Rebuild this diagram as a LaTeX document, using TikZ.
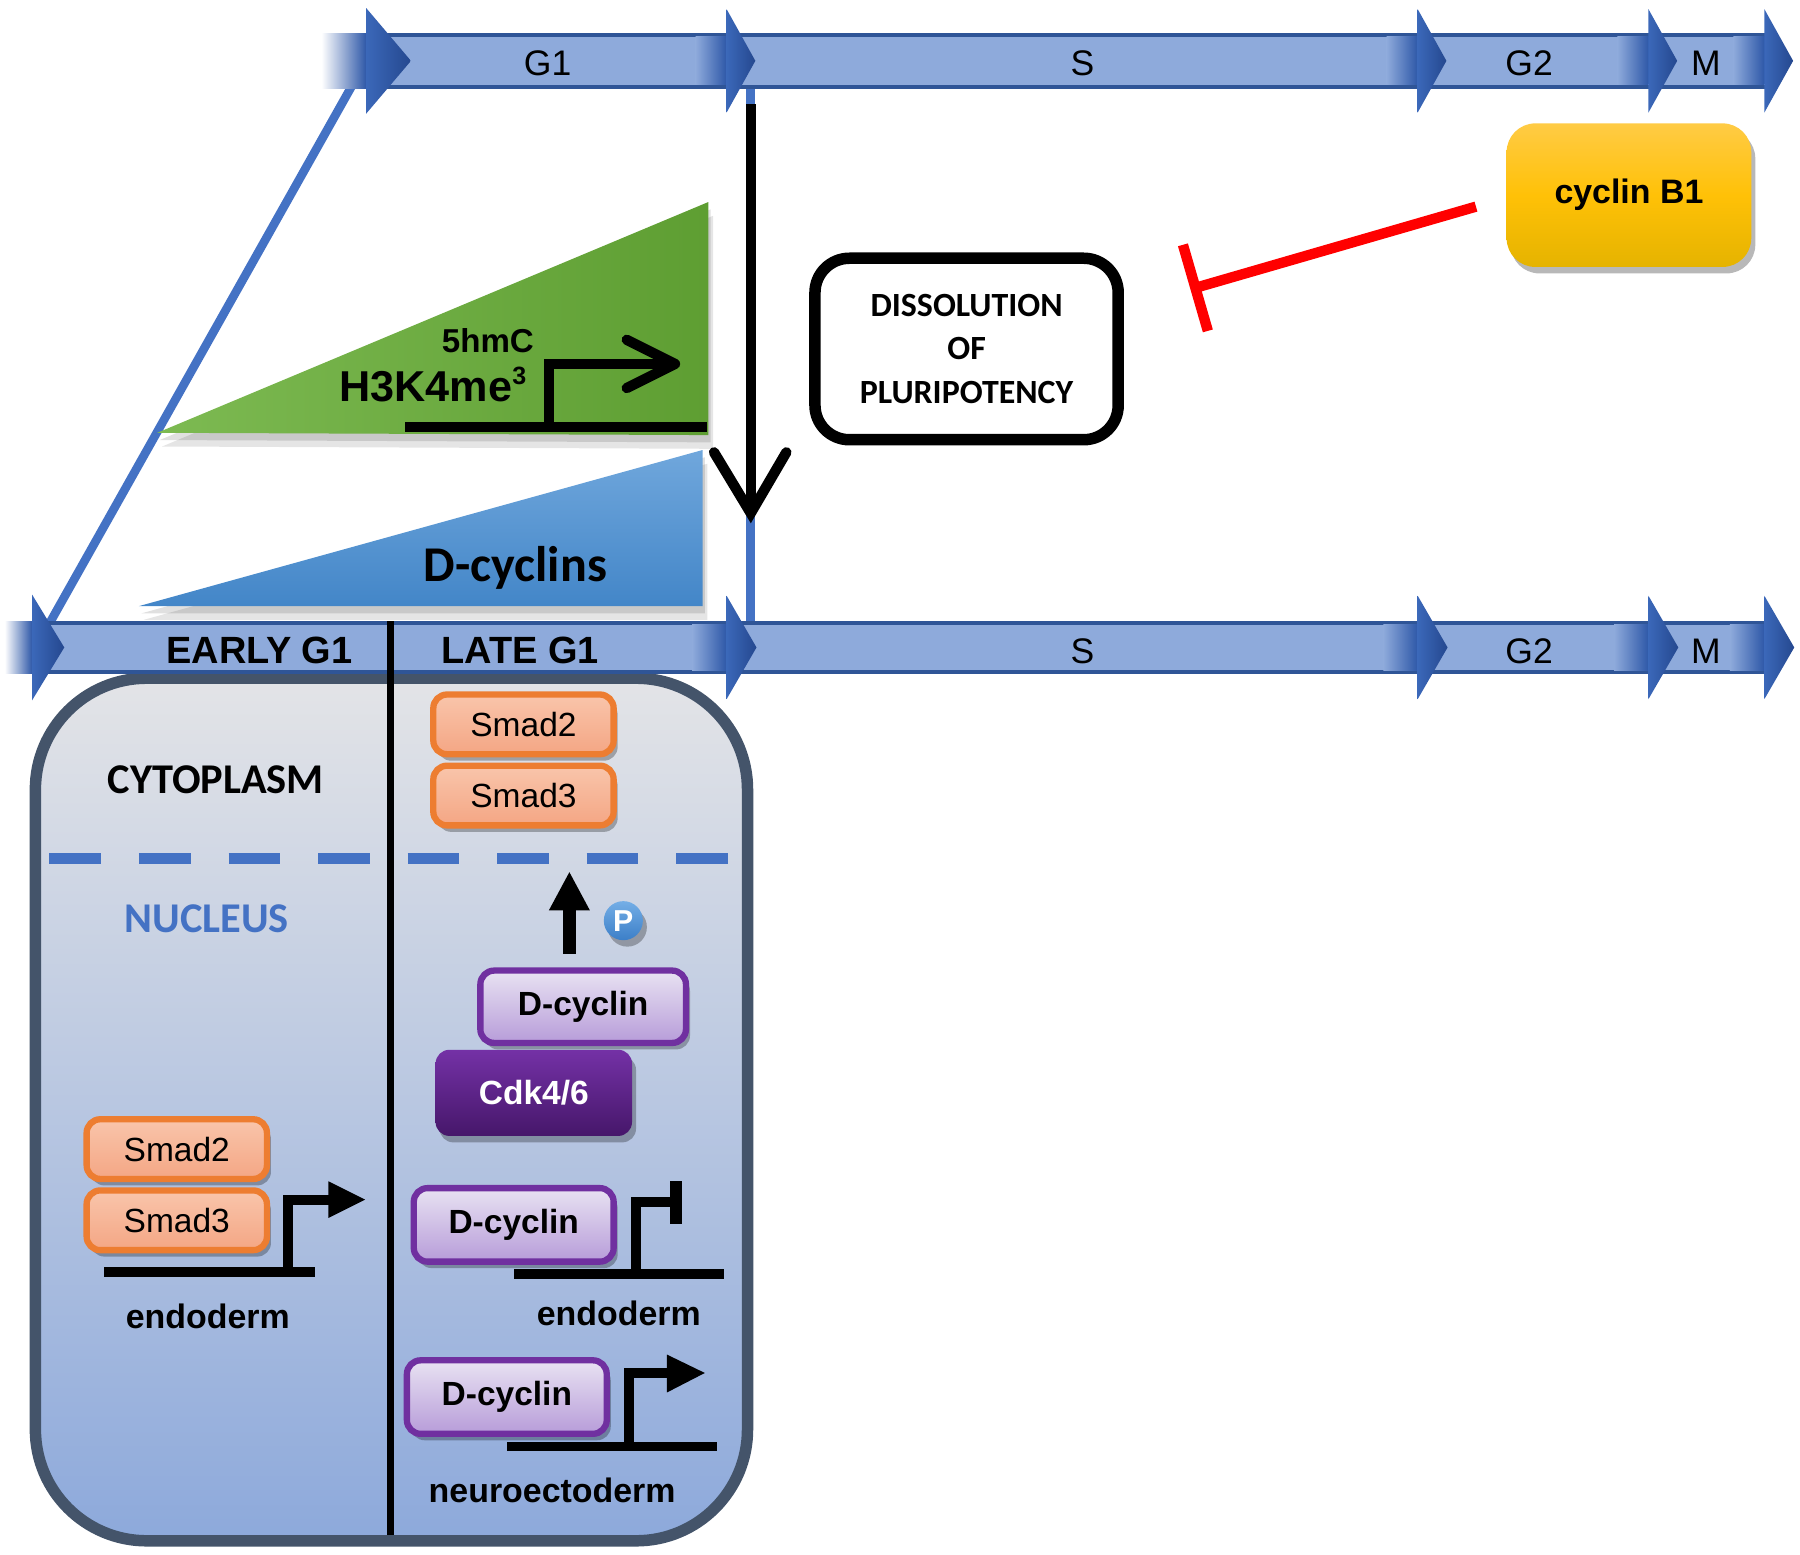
\documentclass[tikz,border=0pt]{standalone}
\usepackage{fontspec}
\setmainfont{Liberation Sans}
\newfontfamily\calib{Carlito}
\usetikzlibrary{arrows.meta,shadows}
\definecolor{barfill}{HTML}{8EAADB}
\definecolor{baredge}{HTML}{2F5597}
\definecolor{headL}{HTML}{3B68B9}
\definecolor{headR}{HTML}{25488F}
\definecolor{headdark}{HTML}{2E58A8}
\definecolor{lineblue}{HTML}{4472C4}
\definecolor{greenL}{HTML}{7DBA52}
\definecolor{greenR}{HTML}{5E9E32}
\definecolor{dblueT}{HTML}{70A7DC}
\definecolor{dblueB}{HTML}{4386C8}
\definecolor{cellT}{HTML}{E3E4E7}
\definecolor{cellB}{HTML}{8DA9DB}
\definecolor{cellEdge}{HTML}{44546A}
\definecolor{smadEdge}{HTML}{ED7D31}
\definecolor{smadT}{HTML}{F9C5AB}
\definecolor{smadB}{HTML}{F4A684}
\definecolor{purpEdge}{HTML}{7030A0}
\definecolor{dcycT}{HTML}{E8E2F2}
\definecolor{dcycB}{HTML}{B79CD9}
\definecolor{cdkT}{HTML}{7431A6}
\definecolor{cdkB}{HTML}{46176A}
\definecolor{goldT}{HTML}{FFCB45}
\definecolor{goldM}{HTML}{FFC107}
\definecolor{goldB}{HTML}{E5B300}
\definecolor{inhred}{HTML}{FF0000}
\definecolor{pT}{HTML}{74AEE6}
\definecolor{pB}{HTML}{3C7FC8}
\tikzset{
  shadowed/.style={drop shadow={shadow xshift=1pt, shadow yshift=-1.6pt, opacity=0.28, fill=black}},
  tshadow/.style={
    preaction={fill=black, opacity=0.10, transform canvas={shift={(1.2pt,-3.4pt)}}},
    preaction={fill=black, opacity=0.12, transform canvas={shift={(0.6pt,-1.8pt)}}}},
  tl/.style={inner sep=0pt, font=\fontsize{8.8}{10}\selectfont},
  phase/.style={inner sep=0pt, font=\bfseries\fontsize{9.4}{11}\selectfont},
  smadbox/.style={draw=smadEdge, line width=0.055cm, rounded corners=0.12cm, top color=smadT, bottom color=smadB,
    minimum width=1.57cm, minimum height=0.52cm, inner sep=0pt, font=\fontsize{8.3}{10}\selectfont, shadowed},
  dcycbox/.style={draw=purpEdge, line width=0.055cm, rounded corners=0.12cm, top color=dcycT, bottom color=dcycB,
    minimum width=1.74cm, minimum height=0.64cm, inner sep=0pt, font=\bfseries\fontsize{8.3}{10}\selectfont, shadowed},
  genelbl/.style={inner sep=0pt, font=\bfseries\fontsize{8.4}{10}\selectfont},
  dna/.style={line width=0.085cm},
  tss/.style={line width=0.085cm, line join=miter},
}
\begin{document}
\begin{tikzpicture}[x=0.01cm, y=-0.01cm]
\useasboundingbox (0,0) rectangle (1568,1354);

% ---------- connectors between timelines ----------
\coordinate (diagB) at (42,545);
\coordinate (diagT) at (316,58);
\draw[lineblue, line width=0.075cm] (diagB) -- (diagT);
\coordinate (vblT) at (654,77);
\coordinate (vblB) at (654,541);
\draw[lineblue, line width=0.075cm] (vblT) -- (vblB);

% ---------- triangles ----------
\shade[tshadow, left color=greenL, right color=greenR] (137,377) -- (617,176) -- (617,379) -- cycle;
\shade[tshadow, top color=dblueT, bottom color=dblueB] (121,528) -- (612,392) -- (612,528) -- cycle;

% promoter in green triangle
\draw[dna] (353,372) -- (616,372);
\draw[tss] (478,372) -- (478,317) -- (584,317);
\draw[line width=0.09cm, line cap=round, line join=round] (546,296) -- (588,317) -- (546,338);
\node[inner sep=0pt, font=\bfseries\fontsize{8.2}{10}\selectfont] (hmc) at (425,297) {5hmC};
\node[inner sep=0pt, font=\bfseries\fontsize{10.7}{12}\selectfont] (h3k) at (377,335)
  {H3K4me\raisebox{0.38em}{\fontsize{6.2}{7}\selectfont 3}};
\node[inner sep=0pt, font=\calib\bfseries\fontsize{12.4}{14}\selectfont] (dcycs) at (449,495) {D-cyclins};

% black arrow down
\coordinate (vtop) at (654,91);
\coordinate (vtip) at (654,447);
\draw[line width=0.09cm] (vtop) -- (vtip);
\draw[line width=0.09cm, line cap=round, line join=miter] (622,394) -- (vtip) -- (685,394);

% ---------- dissolution and cyclin B1 ----------
\node[draw=black, line width=0.1cm, rounded corners=0.3cm, minimum width=2.64cm, minimum height=1.58cm,
  align=center, inner sep=0pt, font=\calib\bfseries\fontsize{8.4}{10.8}\selectfont] (diss) at (842,304)
  {DISSOLUTION\\OF\\PLURIPOTENCY};
\node[rounded corners=0.25cm, top color=goldT, bottom color=goldB, middle color=goldM,
  minimum width=2.13cm, minimum height=1.25cm, inner sep=0pt,
  font=\bfseries\fontsize{8.4}{10}\selectfont, shadowed] (cb1) at (1419,170) {cyclin B1};
\coordinate (inh) at (1037,252);
\draw[inhred, line width=0.09cm, -{Bar[width=0.78cm]}] ([shift={(-26,10)}]cb1.west) -- (inh);

% ---------- cell ----------
\node[draw=cellEdge, line width=0.1cm, rounded corners=0.97cm, top color=cellT, bottom color=cellB,
  minimum width=6.2cm, minimum height=7.51cm, inner sep=0pt] (cell) at (341,966.5) {};
\draw[lineblue, line width=0.1cm, dash pattern=on 0.45cm off 0.33cm] (43,748) -- (323,748);
\draw[lineblue, line width=0.1cm, dash pattern=on 0.45cm off 0.33cm] (355,748) -- (635,748);
\node[inner sep=0pt, font=\calib\bfseries\fontsize{10.5}{12}\selectfont] (cyto) at (188,679) {CYTOPLASM};
\node[inner sep=0pt, text=lineblue, font=\calib\bfseries\fontsize{10.5}{12}\selectfont] (nuc) at (180,800) {NUCLEUS};

% ---------- timelines ----------
% top
\shade[left color=white, right color=headdark] (280,29) rectangle (319,77);
\fill[barfill] (319,29) rectangle (1540,77);
\draw[baredge, line width=0.035cm] (319,30.5) -- (1540,30.5) (319,75.5) -- (1540,75.5);
\foreach \b in {633,1235,1436,1537}
  \shade[left color=barfill, right color=headdark] (\b-27,32) rectangle (\b,74);
\shade[left color=headL, right color=headR] (319,7) -- (358,53) -- (319,99) -- cycle;
\foreach \b in {633,1235,1436,1537}
  \shade[left color=headL, right color=headR] (\b,8) -- (\b+25,53) -- (\b,98) -- cycle;
\node[tl] (tG1) at (477,55) {G1};
\node[tl] (tS) at (943,55) {S};
\node[tl] (tG2) at (1332,55) {G2};
\node[tl] (tM) at (1486,55) {M};
% bottom
\shade[left color=white, right color=headdark] (4,541) rectangle (28,587);
\fill[barfill] (28,541) rectangle (1540,587);
\draw[baredge, line width=0.035cm] (28,542.5) -- (1540,542.5) (28,585.5) -- (1540,585.5);
\foreach \b in {633,1235,1436,1537}
  \shade[left color=barfill, right color=headdark] (\b-30,544) rectangle (\b,584);
\shade[left color=headL, right color=headR] (28,518) -- (56,564) -- (28,610) -- cycle;
\foreach \b in {633,1235,1436,1537}
  \shade[left color=headL, right color=headR] (\b,519) -- (\b+26,564) -- (\b,609) -- cycle;
\node[phase] (early) at (226,567) {EARLY G1};
\node[phase] (late) at (453,567) {LATE G1};
\node[tl] (bS) at (943,567) {S};
\node[tl] (bG2) at (1332,567) {G2};
\node[tl] (bM) at (1486,567) {M};

% divider
\coordinate (divT) at (340,541);
\coordinate (divB) at (340,1337);
\draw[line width=0.065cm] (divT) -- (divB);

% ---------- late G1 cytoplasm ----------
\node[smadbox] (rs2) at (456,631) {Smad2};
\node[smadbox] (rs3) at (456,693) {Smad3};

% phosphorylation export arrow
\coordinate (upS) at (496,831);
\coordinate (upE) at (496,759);
\draw[line width=0.11cm, -{Triangle[width=0.33cm, length=0.34cm]}] (upS) -- (upE);
\node[circle, minimum size=0.34cm, inner sep=0pt, top color=pT, bottom color=pB, text=white,
  font=\bfseries\fontsize{7.5}{8}\selectfont, shadowed] (P) at (543,802) {P};

\node[rounded corners=0.12cm, top color=cdkT, bottom color=cdkB, minimum width=1.71cm, minimum height=0.75cm,
  inner sep=0pt, text=white, font=\bfseries\fontsize{8.3}{10}\selectfont, shadowed] (cdk) at (465,952) {Cdk4/6};
\node[dcycbox, minimum width=1.79cm, minimum height=0.63cm] (dc0) at (508,877) {D-cyclin};

% ---------- early G1 nucleus ----------
\node[smadbox] (ls2) at (154,1001) {Smad2};
\node[smadbox] (ls3) at (154,1063) {Smad3};
\draw[dna] (91,1108) -- (274,1108);
\draw[tss] (251,1108) -- (251,1045) -- (290,1045);
\fill (286,1029) -- (318,1045) -- (286,1061) -- cycle;
\node[genelbl] (endoL) at (181,1147) {endoderm};

% ---------- late G1 nucleus ----------
\node[dcycbox] (dc1) at (447.5,1067) {D-cyclin};
\draw[dna] (448,1110) -- (631,1110);
\draw[tss] (554,1110) -- (554,1047) -- (589,1047);
\draw[line width=0.1cm] (589,1029) -- (589,1066);
\node[genelbl] (endoR) at (539,1144) {endoderm};

\node[dcycbox] (dc2) at (441.5,1217) {D-cyclin};
\draw[dna] (442,1260) -- (625,1260);
\draw[tss] (548,1260) -- (548,1196) -- (584,1196);
\fill (581,1180) -- (614,1196) -- (581,1213) -- cycle;
\node[genelbl] (neuro) at (481,1298) {neuroectoderm};
\end{tikzpicture}
\end{document}
